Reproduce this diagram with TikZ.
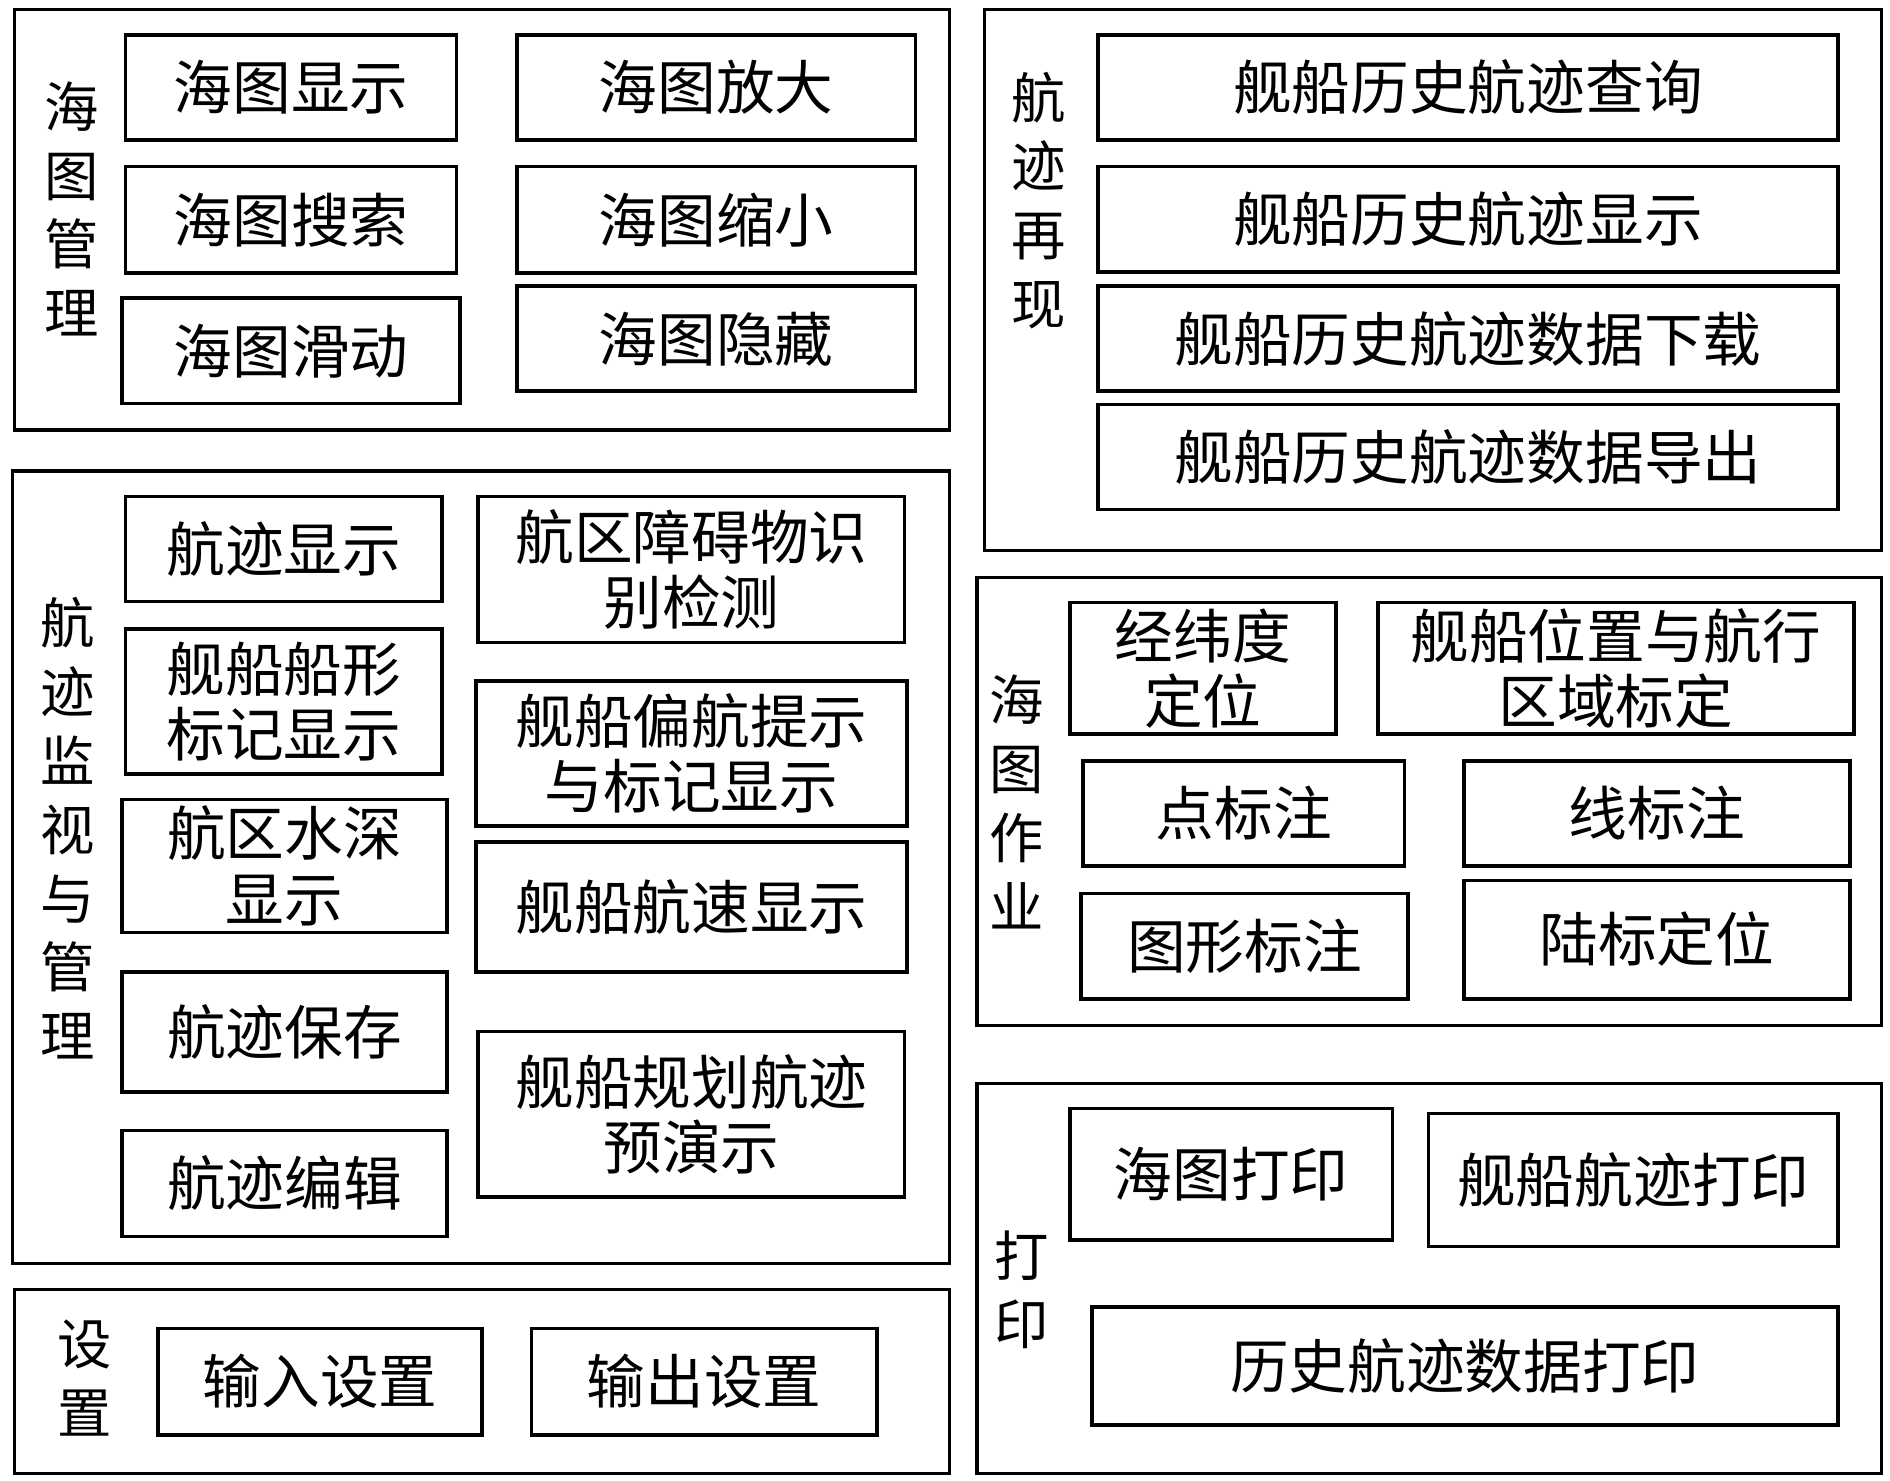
\documentclass[tikz,border=0pt]{standalone}
\usepackage{fontspec}
\setmainfont{Noto Sans CJK SC}
\newcommand\bx[7][box]{\node[#1, minimum width={(#4-#2)*0.5pt}, minimum height={(#5-#3)*0.5pt}] (#6) at ({(#2+#4)/2},{(#3+#5)/2}) {#7};}
\begin{document}
\begin{tikzpicture}[x=0.5pt,y=-0.5pt,
  box/.style={draw, line width=1.5pt, inner sep=0pt, align=center, font=\fontsize{24.3}{27}\selectfont},
  panel/.style={draw, line width=1.3pt, inner sep=0pt},
  lbl/.style={align=center, inner sep=0pt, font=\fontsize{22.5}{28.5}\selectfont}]
\useasboundingbox (0,0) rectangle (1565,1226);
% Panel A
\bx[panel]{12}{8}{786}{356}{pA}{}
\node[lbl] (lA) at (59,173) {海\\图\\管\\理};
\bx{104}{29}{378}{116}{a1}{海图显示}
\bx{428}{29}{758}{116}{a2}{海图放大}
\bx{104}{138}{378}{226}{a3}{海图搜索}
\bx{428}{138}{758}{226}{a4}{海图缩小}
\bx{101}{247}{381}{334}{a5}{海图滑动}
\bx{428}{237}{758}{324}{a6}{海图隐藏}
% Panel B
\bx[panel]{10}{390}{786}{1046}{pB}{}
\node[lbl] (lB) at (56,686) {航\\迹\\监\\视\\与\\管\\理};
\bx{104}{411}{366}{498}{b1}{航迹显示}
\bx{104}{521}{366}{641}{b2}{舰船船形\\标记显示}
\bx{101}{662}{370}{772}{b3}{航区水深\\显示}
\bx{101}{805}{370}{904}{b4}{航迹保存}
\bx{101}{936}{370}{1024}{b5}{航迹编辑}
\bx{396}{411}{749}{532}{b6}{航区障碍物识\\别检测}
\bx{394}{564}{751}{684}{b7}{舰船偏航提示\\与标记显示}
\bx{394}{697}{751}{805}{b8}{舰船航速显示}
\bx{396}{854}{749}{991}{b9}{舰船规划航迹\\预演示}
% Panel C
\bx[panel]{815}{8}{1558}{456}{pC}{}
\node[lbl] (lC) at (860,166) {航\\迹\\再\\现};
\bx{909}{29}{1522}{116}{c1}{舰船历史航迹查询}
\bx{909}{138}{1522}{225}{c2}{舰船历史航迹显示}
\bx{909}{237}{1522}{324}{c3}{舰船历史航迹数据下载}
\bx{909}{335}{1522}{422}{c4}{舰船历史航迹数据导出}
% Panel D
\bx[panel]{809}{478}{1558}{849}{pD}{}
\node[lbl] (lD) at (842,664) {海\\图\\作\\业};
\bx{886}{499}{1106}{608}{d1}{经纬度\\定位}
\bx{1141}{499}{1535}{608}{d2}{舰船位置与航行\\区域标定}
\bx{897}{630}{1163}{717}{d3}{点标注}
\bx{1212}{630}{1532}{717}{d4}{线标注}
\bx{895}{740}{1166}{827}{d5}{图形标注}
\bx{1212}{729}{1532}{827}{d6}{陆标定位}
% Panel E
\bx[panel]{12}{1068}{786}{1220}{pE}{}
\node[lbl] (lE) at (70,1141) {设\\置};
\bx{131}{1100}{399}{1188}{e1}{输入设置}
\bx{440}{1100}{726}{1188}{e2}{输出设置}
% Panel F
\bx[panel]{809}{897}{1558}{1220}{pF}{}
\node[lbl] (lF) at (846,1068) {打\\印};
\bx{886}{918}{1153}{1027}{f1}{海图打印}
\bx{1183}{922}{1522}{1032}{f2}{舰船航迹打印}
\bx{904}{1082}{1522}{1180}{f3}{历史航迹数据打印}
\end{tikzpicture}
\end{document}
